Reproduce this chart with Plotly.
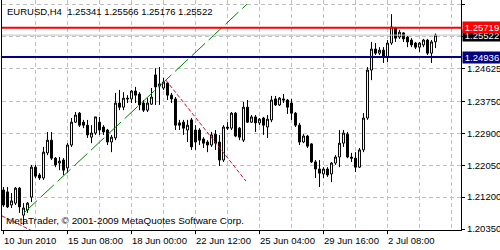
import plotly.graph_objects as go

# ---- data (EURUSD H4) ----
opens = [1.2139, 1.2134, 1.2099, 1.2104, 1.2144, 1.2072, 1.2086, 1.2120, 1.2200, 1.2179,
         1.2171, 1.2238, 1.2272, 1.2224, 1.2211, 1.2219, 1.2198, 1.2259, 1.2320, 1.2344,
         1.2320, 1.2312, 1.2280, 1.2291, 1.2320, 1.2307, 1.2299, 1.2267, 1.2278, 1.2371,
         1.2360, 1.2384, 1.2382, 1.2403, 1.2395, 1.2371, 1.2352, 1.2368, 1.2446, 1.2416,
         1.2411, 1.2424, 1.2392, 1.2382, 1.2318, 1.2320, 1.2299, 1.2326, 1.2299, 1.2299,
         1.2275, 1.2267, 1.2259, 1.2288, 1.2267, 1.2219, 1.2307, 1.2304, 1.2344, 1.2304,
         1.2272, 1.2360, 1.2320, 1.2334, 1.2318, 1.2331, 1.2307, 1.2326, 1.2382, 1.2366,
         1.2382, 1.2379, 1.2371, 1.2344, 1.2312, 1.2267, 1.2283, 1.2262, 1.2214, 1.2195,
         1.2182, 1.2195, 1.2182, 1.2211, 1.2227, 1.2264, 1.2288, 1.2227, 1.2224, 1.2200,
         1.2246, 1.2331, 1.2459, 1.2515, 1.2504, 1.2512, 1.2494, 1.2531, 1.2571, 1.2547,
         1.2558, 1.2547, 1.2539, 1.2531, 1.2520, 1.2526, 1.2539, 1.2504, 1.25341]
highs = [1.2147, 1.2147, 1.2131, 1.2147, 1.2147, 1.2104, 1.2107, 1.2206, 1.2206, 1.2184,
         1.2254, 1.2294, 1.2294, 1.2227, 1.2227, 1.2224, 1.2264, 1.2331, 1.2347, 1.2347,
         1.2326, 1.2326, 1.2312, 1.2334, 1.2334, 1.2312, 1.2302, 1.2286, 1.2398, 1.2406,
         1.2400, 1.2392, 1.2406, 1.2414, 1.2400, 1.2379, 1.2384, 1.2411, 1.2464, 1.2467,
         1.2438, 1.2427, 1.2398, 1.2387, 1.2326, 1.2326, 1.2326, 1.2331, 1.2312, 1.2304,
         1.2280, 1.2272, 1.2294, 1.2299, 1.2286, 1.2312, 1.2320, 1.2347, 1.2347, 1.2307,
         1.2374, 1.2379, 1.2339, 1.2339, 1.2331, 1.2334, 1.2339, 1.2390, 1.2390, 1.2387,
         1.2395, 1.2382, 1.2382, 1.2347, 1.2318, 1.2288, 1.2286, 1.2264, 1.2219, 1.2219,
         1.2200, 1.2200, 1.2214, 1.2232, 1.2299, 1.2299, 1.2294, 1.2238, 1.2240, 1.2251,
         1.2344, 1.2467, 1.2534, 1.2531, 1.2520, 1.2520, 1.2539, 1.2608, 1.2574, 1.2566,
         1.2560, 1.2550, 1.2544, 1.2534, 1.2534, 1.2542, 1.2542, 1.2539, 1.25566]
lows = [1.2094, 1.2091, 1.2091, 1.2099, 1.2078, 1.2046, 1.2078, 1.2107, 1.2171, 1.2166,
        1.2166, 1.2232, 1.2219, 1.2200, 1.2192, 1.2179, 1.2184, 1.2254, 1.2318, 1.2307,
        1.2304, 1.2278, 1.2264, 1.2286, 1.2286, 1.2286, 1.2259, 1.2240, 1.2272, 1.2352,
        1.2352, 1.2371, 1.2371, 1.2371, 1.2352, 1.2347, 1.2347, 1.2366, 1.2366, 1.2366,
        1.2406, 1.2379, 1.2371, 1.2299, 1.2299, 1.2286, 1.2267, 1.2246, 1.2246, 1.2259,
        1.2251, 1.2240, 1.2254, 1.2246, 1.2203, 1.2214, 1.2299, 1.2299, 1.2280, 1.2272,
        1.2267, 1.2318, 1.2318, 1.2294, 1.2312, 1.2286, 1.2278, 1.2320, 1.2363, 1.2363,
        1.2371, 1.2342, 1.2326, 1.2307, 1.2259, 1.2264, 1.2251, 1.2211, 1.2171, 1.2147,
        1.2171, 1.2174, 1.2160, 1.2206, 1.2200, 1.2254, 1.2224, 1.2214, 1.2187, 1.2198,
        1.2240, 1.2326, 1.2432, 1.2499, 1.2499, 1.2478, 1.2480, 1.2526, 1.2534, 1.2542,
        1.2534, 1.2520, 1.2520, 1.2515, 1.2507, 1.2520, 1.2499, 1.2478, 1.25176]
closes = [1.2099, 1.2094, 1.2110, 1.2144, 1.2094, 1.2091, 1.2104, 1.2200, 1.2176, 1.2171,
          1.2240, 1.2272, 1.2224, 1.2206, 1.2216, 1.2192, 1.2259, 1.2320, 1.2339, 1.2312,
          1.2312, 1.2286, 1.2291, 1.2334, 1.2299, 1.2294, 1.2267, 1.2280, 1.2371, 1.2360,
          1.2384, 1.2382, 1.2403, 1.2392, 1.2366, 1.2352, 1.2371, 1.2387, 1.2414, 1.2422,
          1.2427, 1.2392, 1.2382, 1.2312, 1.2312, 1.2304, 1.2312, 1.2254, 1.2267, 1.2272,
          1.2264, 1.2259, 1.2286, 1.2264, 1.2219, 1.2307, 1.2304, 1.2344, 1.2283, 1.2280,
          1.2360, 1.2320, 1.2334, 1.2318, 1.2328, 1.2312, 1.2328, 1.2379, 1.2366, 1.2384,
          1.2379, 1.2360, 1.2344, 1.2312, 1.2267, 1.2283, 1.2256, 1.2214, 1.2195, 1.2184,
          1.2195, 1.2179, 1.2211, 1.2227, 1.2264, 1.2291, 1.2227, 1.2224, 1.2200, 1.2246,
          1.2331, 1.2459, 1.2515, 1.2504, 1.2512, 1.2494, 1.2531, 1.2574, 1.2544, 1.2560,
          1.2542, 1.2534, 1.2526, 1.2520, 1.2531, 1.2539, 1.2504, 1.2534, 1.25522]
bars = list(range(len(opens)))

x_label_bars = [0, 16, 32, 48, 64, 80, 96]
x_labels = ["10 Jun 2010", "15 Jun 08:00", "18 Jun 00:00", "22 Jun 12:00",
            "25 Jun 04:00", "29 Jun 16:00", "2 Jul 08:00"]
x_grid_bars = [8, 16, 24, 32, 40, 48, 56, 64, 72, 80, 88, 96, 104, 112]

y_tick_vals = [1.20350, 1.21200, 1.22050, 1.22900, 1.23750, 1.24625, 1.25475, 1.26325]
y_tick_text = ["1.20350", "1.21200", "1.22050", "1.22900", "1.23750", "1.24625", "", "1.26325"]

level_red = 1.25719
level_blue = 1.24936
bid_price = 1.25522

green_x = [5.1, 60.9]
green_y = [1.2078, 1.2635]
red1_x = [40.6, 60.6]
red1_y = [1.2432, 1.2163]
red2_x = [-0.4, 7.5]
red2_y = [1.2070, 1.2028]

header = "EURUSD,H4  1.25341 1.25566 1.25176 1.25522"
footer = "MetaTrader, \u00a9 2001-2009 MetaQuotes Software Corp."

FONT = "Liberation Sans, Arial, sans-serif"
FS = 9.5

fig = go.Figure()
fig.add_trace(go.Scatter(x=green_x, y=green_y, mode="lines",
                         line=dict(color="#008000", width=1, dash="18px,5px"),
                         hoverinfo="skip", showlegend=False))
fig.add_trace(go.Scatter(x=red1_x, y=red1_y, mode="lines",
                         line=dict(color="#c0102f", width=1, dash="4px,2px"),
                         hoverinfo="skip", showlegend=False))
fig.add_trace(go.Scatter(x=red2_x, y=red2_y, mode="lines",
                         line=dict(color="#c0102f", width=1, dash="4px,2px"),
                         hoverinfo="skip", showlegend=False))
fig.add_trace(go.Candlestick(
    x=bars, open=opens, high=highs, low=lows, close=closes,
    increasing=dict(line=dict(color="black", width=1), fillcolor="white"),
    decreasing=dict(line=dict(color="black", width=1), fillcolor="black"),
    whiskerwidth=0, showlegend=False, hoverinfo="skip"))

shapes = []
shapes.append(dict(type="line", xref="paper", x0=0, x1=1, yref="y", y0=bid_price, y1=bid_price,
                   line=dict(color="#c0c0c0", width=1)))
shapes.append(dict(type="line", xref="paper", x0=0, x1=1, yref="y", y0=level_red, y1=level_red,
                   line=dict(color="#ff0000", width=2)))
shapes.append(dict(type="line", xref="paper", x0=0, x1=1, yref="y", y0=level_blue, y1=level_blue,
                   line=dict(color="#000080", width=2)))
for b in x_label_bars:
    shapes.append(dict(type="line", xref="x", x0=b, x1=b, yref="paper", y0=0, y1=-0.018,
                       line=dict(color="black", width=1)))

annotations = []
annotations.append(dict(text=header, xref="paper", yref="paper", x=0, y=1, xanchor="left",
                        yanchor="top", xshift=3, yshift=-4, showarrow=False,
                        font=dict(family=FONT, size=FS, color="black")))
annotations.append(dict(text=footer, xref="paper", yref="paper", x=0, y=0, xanchor="left",
                        yanchor="bottom", xshift=2, yshift=2, showarrow=False,
                        font=dict(family=FONT, size=9.9, color="black")))
for b, t in zip(x_label_bars, x_labels):
    annotations.append(dict(text=t, xref="x", yref="paper", x=b, y=0, xanchor="left",
                            yanchor="top", xshift=-2, yshift=-3, showarrow=False,
                            font=dict(family=FONT, size=FS, color="black")))
for val, bg in [(bid_price, "#000000"), (level_red, "#ff0000"), (level_blue, "#000080")]:
    annotations.append(dict(text=f"{val:.5f}", xref="paper", yref="y", x=1, y=val,
                            xanchor="left", yanchor="middle", xshift=1, showarrow=False,
                            bgcolor=bg, borderpad=0, width=38, height=11,
                            font=dict(family=FONT, size=FS, color="white")))

fig.update_layout(
    width=500, height=250,
    margin=dict(l=2, r=39, t=0, b=20),
    paper_bgcolor="white", plot_bgcolor="white",
    boxgap=0.3,
    shapes=shapes, annotations=annotations,
    font=dict(family=FONT, size=FS, color="black"),
    xaxis=dict(range=[-0.375, 114.375], rangeslider=dict(visible=False),
               tickmode="array", tickvals=x_grid_bars, showticklabels=False, ticks="",
               showgrid=True, gridcolor="#c0c0c0", griddash="4px,3px", gridwidth=1,
               showline=True, linecolor="black", linewidth=1, zeroline=False),
    yaxis=dict(range=[1.20324, 1.26458], side="right",
               tickmode="array", tickvals=y_tick_vals, ticktext=y_tick_text,
               ticks="outside", ticklen=3, tickcolor="black",
               showgrid=True, gridcolor="#c0c0c0", griddash="4px,3px", gridwidth=1,
               showline=True, mirror=True, linecolor="black", linewidth=1, zeroline=False,
               tickfont=dict(family=FONT, size=FS, color="black")),
)

fig.write_html("out.html", config={"displayModeBar": False})
